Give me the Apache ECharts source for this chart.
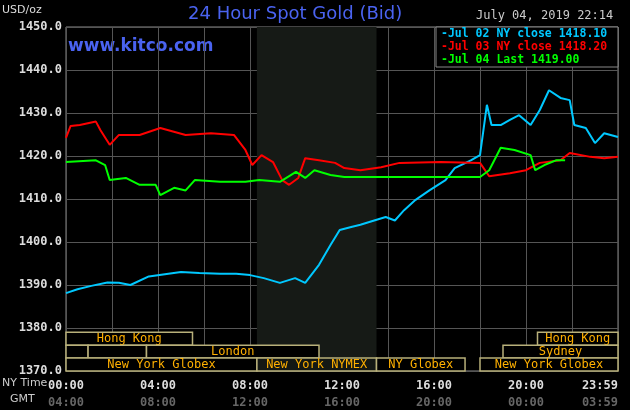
<!DOCTYPE html>
<html><head><meta charset="utf-8">
<script src="https://cdn.jsdelivr.net/npm/echarts@6/dist/echarts.min.js"></script>
<style>body{margin:0;background:#000}#c{width:630px;height:410px}</style>
</head><body><div id="c"></div>
<script>
const hours = [0,4,8,12,16,20,24];
const nyLabels = ['00:00','04:00','08:00','12:00','16:00','20:00','23:59'];
const gmtLabels = ['04:00','08:00','12:00','16:00','20:00','00:00','03:59'];
const jul02 = [[0,1388.1],[0.5,1389],[1.1,1389.8],[1.8,1390.6],[2.3,1390.5],[2.8,1390.0],[3.6,1392],[4.3,1392.5],[5,1393],[5.8,1392.8],[6.7,1392.6],[7.4,1392.6],[8,1392.3],[8.6,1391.6],[9.3,1390.5],[9.96,1391.6],[10.4,1390.5],[11,1394.7],[11.5,1399.3],[11.9,1402.8],[12.4,1403.5],[12.8,1404],[13.4,1405],[13.9,1405.8],[14.3,1405],[14.7,1407.4],[15.2,1409.8],[15.8,1412],[16.5,1414.4],[16.9,1417.2],[17.6,1419],[18,1420.2],[18.3,1431.9],[18.5,1427.2],[18.9,1427.2],[19.3,1428.4],[19.7,1429.5],[20.2,1427.2],[20.6,1430.7],[21,1435.3],[21.5,1433.5],[21.9,1433],[22.1,1427.2],[22.6,1426.5],[23,1423],[23.4,1425.3],[24,1424.4]];
const jul03 = [[0,1424.2],[0.2,1427],[0.6,1427.2],[1.3,1428],[1.5,1426],[1.9,1422.6],[2.3,1424.9],[3.2,1424.9],[4.1,1426.5],[5.2,1424.9],[6.3,1425.3],[7.3,1424.9],[7.8,1421.4],[8.1,1417.9],[8.5,1420.2],[9,1418.6],[9.4,1414.4],[9.7,1413.3],[10.1,1414.9],[10.4,1419.5],[11,1419],[11.7,1418.4],[12.1,1417.2],[12.8,1416.7],[13.7,1417.4],[14.5,1418.4],[16.3,1418.6],[18,1418.4],[18.4,1415.3],[19.3,1416],[20,1416.7],[20.6,1418.4],[21.5,1419],[21.9,1420.7],[22.8,1419.8],[23.4,1419.5],[24,1419.8]];
const jul04 = [[0,1418.6],[1.3,1419],[1.7,1417.9],[1.9,1414.4],[2.6,1414.9],[3.2,1413.3],[3.9,1413.3],[4.1,1410.9],[4.7,1412.6],[5.2,1412],[5.6,1414.4],[6.7,1414],[7.8,1414],[8.4,1414.4],[9.3,1414],[10,1416.3],[10.4,1414.9],[10.8,1416.7],[11.5,1415.6],[12.1,1415.1],[18,1415.1],[18.4,1416.7],[18.9,1421.9],[19.5,1421.4],[20.2,1420.2],[20.4,1416.7],[20.8,1417.9],[21.3,1419],[21.7,1419]];
const sessions = [
 {row:0,from:0,to:5.5,name:'Hong Kong'},{row:0,from:20.5,to:24,name:'Hong Kong'},
 {row:1,from:0,to:0.96,name:''},{row:1,from:0.96,to:3.5,name:''},{row:1,from:3.5,to:11,name:'London'},{row:1,from:19,to:24,name:'Sydney'},
 {row:2,from:0,to:8.3,name:'New York Globex'},{row:2,from:8.3,to:13.5,name:'New York NYMEX'},{row:2,from:13.5,to:17.35,name:'NY Globex'},{row:2,from:18,to:24,name:'New York Globex'}
];
const rowTop = [1379,1376,1373];
const F = 'DejaVu Sans Mono';
const chart = echarts.init(document.getElementById('c'));
chart.setOption({
 backgroundColor:'#000',animation:false,
 grid:{left:66,right:12,top:27,bottom:39,show:true,borderColor:'#888',borderWidth:1,outerBoundsMode:'none',containLabel:false},
 xAxis:{type:'value',min:0,max:24,interval:2,
  axisLine:{show:false},axisTick:{show:false},
  splitLine:{lineStyle:{color:'#555',width:1}},
  axisLabel:{margin:6,fontFamily:F,fontWeight:'bold',fontSize:12,color:'#ddd',showMaxLabel:true,hideOverlap:false,alignMaxLabel:'right',
   formatter:v=>{const i=hours.indexOf(v);return i<0?'':'{a|'+nyLabels[i]+'}\n{b|'+gmtLabels[i]+'}';},
   rich:{a:{color:'#ddd',fontFamily:F,fontWeight:'bold',fontSize:12,lineHeight:17},b:{color:'#666',fontFamily:F,fontWeight:'bold',fontSize:12,lineHeight:17}}}},
 yAxis:{type:'value',min:1370,max:1450,interval:10,
  axisLine:{show:false},axisTick:{show:false},
  splitLine:{lineStyle:{color:'#555'}},
  axisLabel:{fontFamily:F,fontWeight:'bold',fontSize:12,color:'#ddd',formatter:v=>v.toFixed(1),margin:4}},
 graphic:[
  {type:'text',left:2,top:5,style:{text:'USD/oz',fill:'#ddd',font:'11px "DejaVu Sans"'}},
  {type:'text',left:188,top:5,style:{text:'24 Hour Spot Gold (Bid)',fill:'#4a63f0',font:'18px "DejaVu Sans"'}},
  {type:'text',left:68,top:38,style:{text:'www.kitco.com',fill:'#4a63f0',font:'bold 17px "DejaVu Sans"'}},
  {type:'text',left:476,top:10,style:{text:'July 04, 2019 22:14',fill:'#ccc',font:'12px "DejaVu Sans Mono"'}},
  {type:'rect',shape:{x:436,y:27,width:182,height:40},style:{fill:'#000',stroke:'#888',lineWidth:1},z:100},
  {type:'text',left:441,top:28,z:101,style:{text:'-Jul 02 NY close 1418.10',fill:'#00c8ff',font:'bold 11.5px "DejaVu Sans Mono"'}},
  {type:'text',left:441,top:41,z:101,style:{text:'-Jul 03 NY close 1418.20',fill:'#ff0000',font:'bold 11.5px "DejaVu Sans Mono"'}},
  {type:'text',left:441,top:54,z:101,style:{text:'-Jul 04 Last 1419.00',fill:'#00ff00',font:'bold 11.5px "DejaVu Sans Mono"'}},
  {type:'text',left:2,top:378,style:{text:'NY Time',fill:'#ccc',font:'11px "DejaVu Sans"'}},
  {type:'text',left:10,top:394,style:{text:'GMT',fill:'#ccc',font:'11px "DejaVu Sans"'}}
 ],
 series:[
  {type:'custom',z:1,data:sessions.map(s=>[s.from,s.to,s.row,s.name]),
   renderItem:(p,api)=>{const a=api.coord([api.value(0),rowTop[api.value(2)]]);const b=api.coord([api.value(1),rowTop[api.value(2)]-3]);
    return {type:'group',children:[
     {type:'rect',shape:{x:a[0],y:a[1],width:b[0]-a[0],height:b[1]-a[1]},style:{fill:api.value(2)===2&&api.value(0)===8.3?'#141814':'#000',stroke:'#b8b07a',lineWidth:1.5}},
     {type:'text',style:{text:api.value(3),x:(a[0]+b[0])/2,y:(a[1]+b[1])/2,align:'center',verticalAlign:'middle',fill:'#ffb000',font:'12px "DejaVu Sans Mono"'}}]};},
   markArea:{silent:true,itemStyle:{color:'#161a16'},data:[[{xAxis:8.3},{xAxis:13.5}]]}},
  {type:'line',data:jul02,showSymbol:false,lineStyle:{color:'#00c8ff',width:2},z:3},
  {type:'line',data:jul03,showSymbol:false,lineStyle:{color:'#ff0000',width:2},z:3},
  {type:'line',data:jul04,showSymbol:false,lineStyle:{color:'#00ff00',width:2},z:4}
 ]
});
</script></body></html>
